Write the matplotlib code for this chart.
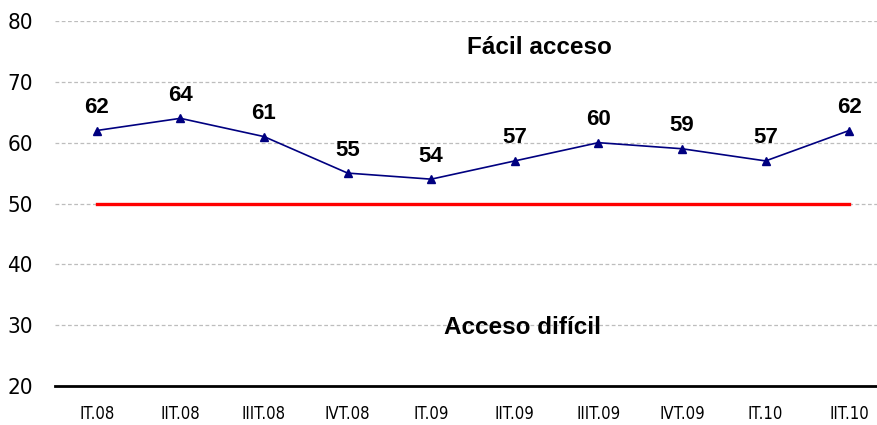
import matplotlib
matplotlib.use("Agg")
import matplotlib.pyplot as plt

# Data
quarters = ["IT.08", "IIT.08", "IIIT.08", "IVT.08", "IT.09",
            "IIT.09", "IIIT.09", "IVT.09", "IT.10", "IIT.10"]
index_values = [62, 64, 61, 55, 54, 57, 60, 59, 57, 62]
threshold = 50
y_ticks = [20, 30, 40, 50, 60, 70, 80]

bold_font = ["Liberation Sans", "DejaVu Sans"]

fig = plt.figure(figsize=(8.78, 4.25), dpi=100)
ax = fig.add_axes([55 / 878, 1 - 386 / 425, 1 - 55 / 878, (386 - 21) / 425])

x = list(range(len(quarters)))

# horizontal dashed gridlines
for yt in y_ticks[1:]:
    ax.axhline(yt, color="#bdbdbd", linestyle=(0, (3, 2)), linewidth=0.9, zorder=0)

# threshold line
ax.plot([x[0], x[-1]], [threshold, threshold], color="#ff0000", linewidth=2.4, zorder=2)

# main series
ax.plot(x, index_values, color="#000080", linewidth=1.2, marker="^",
        markersize=6, zorder=3)

for xi, v in zip(x, index_values):
    ax.annotate(str(v), (xi, v), xytext=(0, 9), textcoords="offset points",
                ha="center", va="bottom", fontsize=16, fontweight="bold",
                family=bold_font)

ax.text(5.30, 75.7, "Fácil acceso", ha="center", va="center",
        fontsize=17.5, fontweight="bold", family=bold_font)
ax.text(5.09, 29.6, "Acceso difícil", ha="center", va="center",
        fontsize=17.5, fontweight="bold", family=bold_font)

ax.set_ylim(20, 80)
ax.set_xlim(-0.5, -0.5 + (878 - 55) / 83.6)
ax.set_yticks(y_ticks)
ax.set_xticks(x)
ax.set_xticklabels(quarters, family="DejaVu Sans", stretch="condensed", fontsize=12)
for lab in ax.get_yticklabels():
    lab.set_family("DejaVu Sans")
    lab.set_stretch("condensed")
    lab.set_fontsize(16)

ax.tick_params(axis="both", length=0)
ax.tick_params(axis="x", pad=14)
ax.tick_params(axis="y", pad=16)
for side in ["top", "right", "left"]:
    ax.spines[side].set_visible(False)
ax.spines["bottom"].set_linewidth(2)
ax.spines["bottom"].set_color("black")

fig.savefig("out.png", dpi=100)
